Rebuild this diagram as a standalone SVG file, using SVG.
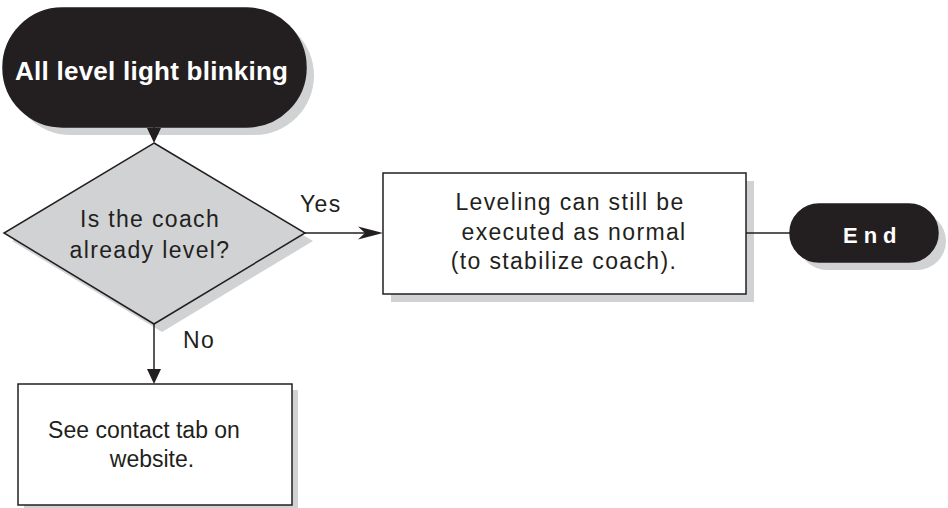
<svg xmlns="http://www.w3.org/2000/svg" width="948" height="508" viewBox="0 0 948 508">
<style>
.sh{fill:#d1d2d4;stroke:none}
.pill{fill:#231f20;stroke:#231f20;stroke-width:1.5}
.box{fill:#ffffff;stroke:#231f20;stroke-width:1.5}
.dia{fill:#d1d2d4;stroke:#231f20;stroke-width:1.5}
.ln{fill:none;stroke:#231f20;stroke-width:1.5}
.ah{fill:#231f20;stroke:none}
.t{font-family:"Liberation Sans",Arial,sans-serif;font-size:23px;fill:#231f20;letter-spacing:1.35px}
.tb{font-family:"Liberation Sans",Arial,sans-serif;font-weight:bold;fill:#ffffff}
.tp{font-family:"Liberation Sans",Arial,sans-serif;font-size:23px;fill:#231f20}
</style>
<rect x="0" y="0" width="948" height="508" fill="#ffffff"/>
<g id="start">
<rect class="sh" x="11" y="16" width="303" height="119" rx="59.5" ry="59.5"/>
<rect class="pill" x="3" y="8" width="303" height="119" rx="59.5" ry="59.5"/>
<text class="tb" x="15" y="80" font-size="26" letter-spacing="0.25">All level light blinking</text>
</g>
<g id="decision">
<polygon class="sh" points="162,151 313,241 162,332 12,241"/>
<polygon class="dia" points="154,143 305,233 154,324 4,233"/>
<text class="t" x="150" y="227" text-anchor="middle" letter-spacing="1.3">Is the coach</text>
<text class="t" x="150" y="258" text-anchor="middle" letter-spacing="1.5">already level?</text>
</g>
<g id="process">
<rect class="sh" x="391" y="181" width="363" height="121"/>
<rect class="box" x="383" y="173" width="363" height="121"/>
<text class="t" x="570" y="210" text-anchor="middle">Leveling can still be</text>
<text class="t" x="574" y="240" text-anchor="middle" letter-spacing="0.4">executed as normal</text>
<text class="t" x="564" y="269" text-anchor="middle">(to stabilize coach).</text>
</g>
<g id="end">
<rect class="sh" x="798" y="212" width="148" height="58" rx="29" ry="29"/>
<rect class="pill" x="790" y="204" width="148" height="58" rx="29" ry="29"/>
<text class="tb" x="843" y="243" font-size="22" letter-spacing="6">End</text>
</g>
<g id="contact">
<rect class="sh" x="24" y="390" width="274" height="121"/>
<rect class="box" x="18" y="384" width="274" height="121"/>
<text class="tp" x="144" y="438" text-anchor="middle">See contact tab on</text>
<text class="tp" x="152" y="467" text-anchor="middle">website.</text>
</g>
<g id="connectors">
<line class="ln" x1="154" y1="127" x2="154" y2="132"/>
<polygon class="ah" points="147,128 161,128 154,143"/>
<line class="ln" x1="305" y1="233" x2="370" y2="233"/>
<polygon class="ah" points="383,233 358,226.5 365,233 358,239.5"/>
<line class="ln" x1="746" y1="233" x2="790" y2="233"/>
<line class="ln" x1="154" y1="324" x2="154" y2="372"/>
<polygon class="ah" points="147,369 161,369 154,384"/>
<text class="t" x="300" y="212">Yes</text>
<text class="t" x="183" y="348" letter-spacing="1">No</text>
</g>
</svg>
